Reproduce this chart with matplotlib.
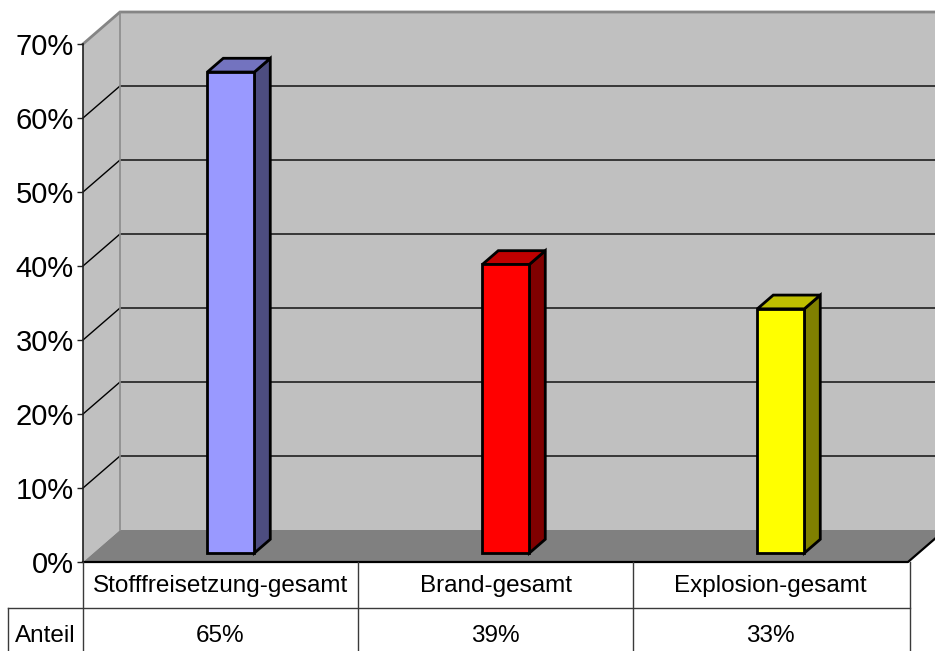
import numpy as np
import matplotlib
matplotlib.use("Agg")
import matplotlib.pyplot as plt
from matplotlib.patches import Polygon

plt.rcParams['font.family'] = ['Liberation Sans', 'DejaVu Sans']

# Anteil je Ereignisart
categories = ["Stofffreisetzung-gesamt", "Brand-gesamt", "Explosion-gesamt"]
shares = [65, 39, 33]
row_label = "Anteil"
y_ticks = [0, 10, 20, 30, 40, 50, 60, 70]

front_colors = ["#9999ff", "#ff0000", "#ffff00"]
top_colors = ["#7373bf", "#bf0000", "#bfbf00"]
side_colors = ["#4d4d80", "#800000", "#808000"]

W, H = 935, 651
fig = plt.figure(figsize=(W / 100, H / 100), dpi=100)
fig.patch.set_facecolor("white")

# front plane of the 3d box, in pixels
x0, x1 = 83, 908
y0, y1 = 562, 44
ax = fig.add_axes([x0 / W, (H - y0) / H, (x1 - x0) / W, (y0 - y1) / H])
ax.set_xlim(-0.5, 2.5)
ax.set_ylim(0, 70)
ax.set_facecolor("none")

# depth offset of the back wall in data units
DX = 37 / 275
DY = 32 / (518 / 70)
ymax = 70


def poly(pts, fc, ec="none", lw=0, z=1):
    p = Polygon(pts, closed=True, facecolor=fc, edgecolor=ec, linewidth=lw,
                zorder=z, clip_on=False, joinstyle="miter")
    ax.add_patch(p)


xl, xr = -0.5, 2.5 + DX + 0.2
# back wall, side wall, floor
poly([(xl + DX, DY), (xr, DY), (xr, ymax + DY), (xl + DX, ymax + DY)], "#c0c0c0")
poly([(xl, 0), (xl + DX, DY), (xl + DX, ymax + DY), (xl, ymax)], "#c0c0c0")
poly([(xl, 0), (2.5, 0), (2.5 + DX, DY), (xl + DX, DY)], "#808080")

# gridlines
for t in y_ticks[1:-1]:
    ax.plot([xl, xl + DX, xr], [t, t + DY, t + DY], color="#000000", lw=1.0,
            zorder=1.2, clip_on=False)

# wall edges
ax.plot([xl, xl + DX, xr], [ymax, ymax + DY, ymax + DY], color="#858585",
        lw=2, zorder=1.3, clip_on=False, solid_joinstyle="miter")
ax.plot([xl + DX, xl + DX], [DY, ymax + DY], color="#8c8c8c", lw=1.2,
        zorder=1.3, clip_on=False)
ax.plot([xl, 2.5, 2.5 + DX], [0, 0, DY], color="black", lw=1.6,
        zorder=1.4, clip_on=False)

# bars
bw = 47 / 275
f0, f1 = 0.28, 0.71
for i, v in enumerate(shares):
    a = i - bw / 2 + f0 * DX
    b = i + bw / 2 + f0 * DX
    ddx = (f1 - f0) * DX
    ddy = (f1 - f0) * DY
    base = f0 * DY
    poly([(b, base), (b + ddx, base + ddy), (b + ddx, base + ddy + v), (b, base + v)],
         side_colors[i], "black", 2, 3)
    poly([(a, base + v), (b, base + v), (b + ddx, base + ddy + v), (a + ddx, base + ddy + v)],
         top_colors[i], "black", 2, 3)
    poly([(a, base), (b, base), (b, base + v), (a, base + v)],
         front_colors[i], "black", 2, 3.1)

ax.set_xticks([])
ax.set_yticks(y_ticks)
ax.set_yticklabels([f"{t}%" for t in y_ticks])
ax.tick_params(axis="y", direction="out", length=4.5, width=1, color="#202020",
               labelsize=21, pad=2)
for s in ["top", "right", "bottom"]:
    ax.spines[s].set_visible(False)
ax.spines["left"].set_color("#202020")
ax.spines["left"].set_linewidth(1.2)
ax.spines["left"].set_zorder(1.5)

# data table under the chart
tab = fig.add_axes([x0 / W, (H - 654) / H, (x1 - x0) / W, 92 / H])
tab.set_xlim(-0.5, 2.5)
tab.set_ylim(2, 0)
tab.axis("off")
lc = "#3a3a3a"
label_left = -0.5 - 75 / 275
for xb in [-0.5, 0.5, 1.5, 2.5 + 2 / 275]:
    tab.plot([xb, xb], [0, 2.1], color=lc, lw=1, clip_on=False)
tab.plot([label_left, 2.5 + 2 / 275], [1, 1], color=lc, lw=1, clip_on=False)
tab.plot([label_left, label_left], [1, 2.1], color=lc, lw=1, clip_on=False)
for i, (c, v) in enumerate(zip(categories, shares)):
    tab.text(i, 0.52, c, ha="center", va="center", fontsize=17.5, color="black")
    tab.text(i, 1.6, f"{v}%", ha="center", va="center", fontsize=17.5, color="black")
tab.text((label_left - 0.5) / 2, 1.6, row_label, ha="center", va="center",
         fontsize=17.5, color="black", clip_on=False)

fig.savefig("out.png", dpi=100, facecolor="white")
